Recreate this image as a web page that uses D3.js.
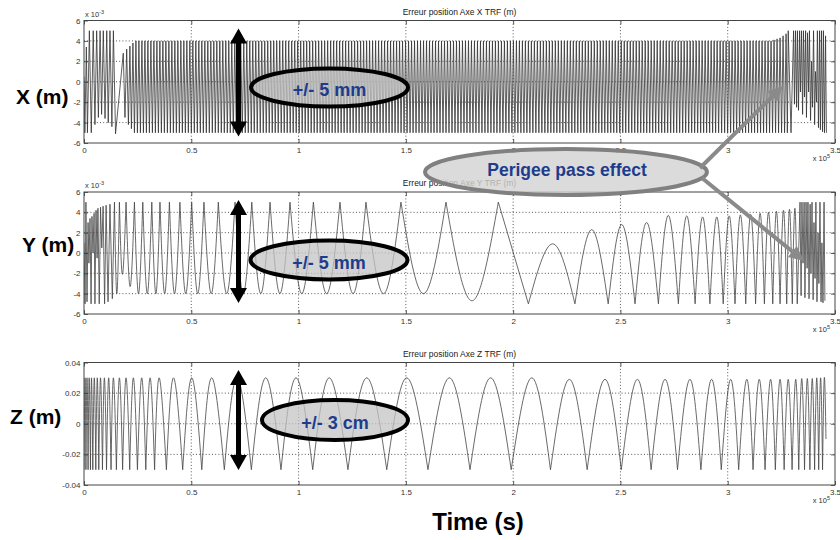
<!DOCTYPE html>
<html>
<head>
<meta charset="utf-8">
<script src="https://cdn.jsdelivr.net/npm/d3@7"></script>
<style>
	body { margin: 0; background: #fff; }
	svg { display: block; font-family: "Liberation Sans", Arial, Helvetica, sans-serif; }
</style>
</head>
<body>
<div id="chart-area"></div>
<script>
/******************************
*			DATA			  *
******************************/
// time in units of 1e5 s, X and Y errors in 1e-3 m, Z error in m
const timeTicks = [0, 0.5, 1, 1.5, 2, 2.5, 3, 3.5];
const timeTickLabels = ["0", "0.5", "1", "1.5", "2", "2.5", "3", "3.5"];
const mmTicks = [6, 4, 2, 0, -2, -4, -6];
const mmTickLabels = ["6", "4", "2", "0", "-2", "-4", "-6"];
const zTicks = [0.04, 0.02, 0, -0.02, -0.04];
const zTickLabels = ["0.04", "0.02", "0", "-0.02", "-0.04"];

const panelTitles = [
	"Erreur position Axe X TRF (m)",
	"Erreur position Axe Y TRF (m)",
	"Erreur position Axe Z TRF (m)"
];
const axisNames = ["X (m)", "Y (m)", "Z (m)"];
const spanNotes = ["+/- 5 mm", "+/- 5 mm", "+/- 3 cm"];
const perigeeNote = "Perigee pass effect";
const timeLabel = "Time (s)";

// X : start of the arc, [time, value]
const xHead = [
	[0.000, 0.5], [0.004, -5.0], [0.011, 3.4], [0.016, -5.0], [0.025, 5.0], [0.034, -5.0],
	[0.043, 5.0], [0.051, -4.2], [0.059, 5.0], [0.067, -3.5], [0.075, 5.0], [0.082, -3.2],
	[0.090, 5.0], [0.098, -3.6], [0.106, 5.0], [0.113, -4.0], [0.121, 5.0], [0.130, -4.4],
	[0.137, 5.0], [0.147, -5.1], [0.183, 2.8], [0.191, -3.5], [0.199, 3.2], [0.207, -4.2],
	[0.214, 3.5], [0.221, -4.6], [0.228, 3.8]
];
// X : long regular stretch, [from, to, cycles, low, high] (about one cycle per 3 px)
const xBand = [
	[0.235, 3.209, 213, -5.0, 4.0]
];
// X : end of the arc, perigee pass
const xTail = [
	[3.216, 4.1], [3.223, -5.0], [3.230, 4.2], [3.237, -5.0], [3.244, 4.3], [3.251, -5.0],
	[3.258, 4.5], [3.265, -5.0], [3.272, 4.7], [3.278, -5.0], [3.282, 5.0], [3.295, -5.0],
	[3.307, 5.0], [3.311, -2.2], [3.316, 5.0], [3.321, -2.5], [3.325, 5.0], [3.330, -2.8],
	[3.335, 5.0], [3.339, -1.0], [3.344, 5.0], [3.349, -3.2], [3.353, 5.0], [3.358, -1.5],
	[3.363, 5.0], [3.367, -3.5], [3.372, 4.8], [3.377, -1.0], [3.381, 5.0], [3.386, -3.8],
	[3.391, 2.0], [3.395, -2.5], [3.400, 5.0], [3.405, -4.2], [3.409, 1.0], [3.414, -2.0],
	[3.418, 5.0], [3.423, -4.5], [3.428, 5.0], [3.432, -4.7], [3.437, 5.0], [3.442, -4.9],
	[3.446, 5.0], [3.451, -5.0], [3.456, 4.5], [3.460, -5.0]
];

// Y : extrema [time, value, cusp] (cusp = 1 : sharp turn, 0 : rounded turn)
const yPoints = [
	[0.000, 1.0, 1], [0.005, -5.0, 1], [0.009, 5.0, 1], [0.014, -4.8, 1], [0.019, 3.0, 1],
	[0.023, -1.0, 1], [0.028, 3.4, 1], [0.033, -5.0, 1], [0.037, 3.6, 1], [0.042, 0.0, 1],
	[0.047, 3.9, 1], [0.051, -5.0, 1], [0.056, 4.2, 1], [0.061, -0.5, 1], [0.065, 4.4, 1],
	[0.071, -5.0, 1], [0.077, 4.5, 1], [0.083, 0.5, 1], [0.089, 4.6, 1], [0.096, -5.0, 1],
	[0.103, 4.7, 1], [0.112, -4.8, 1], [0.121, 4.8, 1], [0.132, -4.5, 1], [0.142, 5.0, 1],
	[0.153, -4.0, 0], [0.165, 5.0, 1], [0.179, -2.1, 0], [0.196, 5.0, 1], [0.215, -3.3, 0],
	[0.235, 5.0, 1], [0.254, -4.0, 0], [0.274, 5.0, 1], [0.295, -4.0, 0], [0.316, 5.0, 1],
	[0.335, -4.0, 0], [0.354, 5.0, 1], [0.376, -4.0, 0], [0.398, 5.0, 1], [0.422, -4.0, 0],
	[0.447, 5.0, 1], [0.474, -4.0, 0], [0.502, 5.0, 1], [0.530, -4.0, 0], [0.559, 5.0, 1],
	[0.593, -4.0, 0], [0.626, 5.0, 1], [0.665, -4.0, 0], [0.704, 5.0, 1], [0.742, -4.0, 0],
	[0.782, 5.0, 1], [0.824, -4.0, 0], [0.867, 5.0, 1], [0.913, -4.0, 0], [0.960, 5.0, 1],
	[1.015, -4.0, 0], [1.069, 5.0, 1], [1.131, -4.0, 0], [1.193, 5.0, 1], [1.254, -4.0, 0],
	[1.314, 5.0, 1], [1.396, -4.0, 0], [1.477, 5.0, 1], [1.582, -4.0, 0], [1.687, 5.0, 1],
	[1.808, -4.7, 0], [1.931, 5.0, 1], [2.071, -5.0, 1], [2.184, 0.9, 0], [2.288, -5.0, 1],
	[2.366, 2.3, 0], [2.443, -5.0, 1], [2.506, 2.8, 0], [2.568, -5.0, 1], [2.622, 3.0, 0],
	[2.677, -5.0, 1], [2.723, 3.7, 0], [2.770, -5.0, 1], [2.809, 3.65, 0], [2.848, -5.0, 1],
	[2.883, 3.55, 0], [2.917, -5.0, 1], [2.949, 3.55, 0], [2.979, -5.0, 1], [3.007, 3.65, 0],
	[3.034, -5.0, 1], [3.059, 3.75, 0], [3.084, -5.0, 1], [3.107, 3.8, 0], [3.130, -5.0, 1],
	[3.151, 3.9, 0], [3.171, -5.0, 1], [3.190, 4.0, 0], [3.210, -5.0, 1], [3.227, 4.1, 0],
	[3.244, -5.0, 1], [3.260, 4.2, 0], [3.275, -5.0, 1], [3.288, 4.3, 0], [3.301, -5.0, 1],
	[3.313, 4.4, 0], [3.324, -5.0, 1], [3.337, 5.0, 1], [3.342, -4.2, 1], [3.346, 5.0, 1],
	[3.351, -1.0, 1], [3.356, 5.0, 1], [3.360, -4.4, 1], [3.365, 5.0, 1], [3.370, -1.5, 1],
	[3.374, 5.0, 1], [3.379, -4.5, 1], [3.384, 4.8, 1], [3.388, -2.0, 1], [3.393, 5.0, 1],
	[3.398, -4.6, 1], [3.402, 3.0, 1], [3.407, -2.5, 1], [3.411, 5.0, 1], [3.416, -4.8, 1],
	[3.421, 2.0, 1], [3.425, -3.0, 1], [3.430, 5.0, 1], [3.435, -4.8, 1], [3.439, 1.0, 1],
	[3.444, -4.9, 1], [3.449, 5.0, 1], [3.453, -4.7, 1]
];

// Z : extrema [time, value, cusp], sharp troughs and rounded tops
const zPoints = [
	[0.000, -0.030, 1], [0.005, 0.030, 0], [0.009, -0.030, 1], [0.014, 0.030, 0], [0.019, -0.030, 1],
	[0.024, 0.030, 0], [0.030, -0.030, 1], [0.035, 0.030, 0], [0.041, -0.030, 1], [0.048, 0.030, 0],
	[0.055, -0.030, 1], [0.062, 0.030, 0], [0.069, -0.030, 1], [0.077, 0.030, 0], [0.086, -0.030, 1],
	[0.095, 0.030, 0], [0.105, -0.030, 1], [0.115, 0.030, 0], [0.126, -0.030, 1], [0.137, 0.030, 0],
	[0.151, -0.030, 1], [0.165, 0.030, 0], [0.180, -0.030, 1], [0.196, 0.030, 0], [0.213, -0.030, 1],
	[0.230, 0.030, 0], [0.249, -0.030, 1], [0.269, 0.030, 0], [0.288, -0.030, 1], [0.308, 0.030, 0],
	[0.329, -0.030, 1], [0.350, 0.030, 0], [0.384, -0.030, 1], [0.417, 0.030, 0], [0.460, -0.030, 1],
	[0.502, 0.030, 0], [0.549, -0.030, 1], [0.595, 0.030, 0], [0.654, -0.030, 1], [0.713, 0.030, 0],
	[0.780, -0.030, 1], [0.847, 0.030, 0], [0.918, -0.030, 1], [0.988, 0.030, 0], [1.066, -0.030, 1],
	[1.143, 0.030, 0], [1.230, -0.030, 1], [1.318, 0.030, 0], [1.411, -0.030, 1], [1.504, 0.030, 0],
	[1.603, -0.030, 1], [1.703, 0.030, 0], [1.799, -0.030, 1], [1.895, 0.030, 0], [1.991, -0.030, 1],
	[2.087, 0.030, 0], [2.174, -0.030, 1], [2.262, 0.029, 0], [2.345, -0.030, 1], [2.428, 0.029, 0],
	[2.504, -0.030, 1], [2.579, 0.029, 0], [2.643, -0.030, 1], [2.708, 0.029, 0], [2.766, -0.030, 1],
	[2.824, 0.029, 0], [2.875, -0.030, 1], [2.925, 0.029, 0], [2.970, -0.030, 1], [3.014, 0.029, 0],
	[3.051, -0.030, 1], [3.089, 0.029, 0], [3.118, -0.030, 1], [3.147, 0.029, 0], [3.174, -0.030, 1],
	[3.200, 0.029, 0], [3.222, -0.030, 1], [3.244, 0.029, 0], [3.263, -0.030, 1], [3.282, 0.029, 0],
	[3.300, -0.030, 1], [3.317, 0.029, 0], [3.331, -0.030, 1], [3.345, 0.0295, 0], [3.358, -0.030, 1],
	[3.371, 0.0295, 0], [3.383, -0.030, 1], [3.394, 0.0295, 0], [3.405, -0.030, 1], [3.415, 0.030, 0],
	[3.424, -0.030, 1], [3.433, 0.030, 0], [3.442, -0.030, 1], [3.450, 0.030, 0], [3.458, -0.010, 1]
];

/******************************
*		  BUILD SERIES		  *
******************************/
// regular stretch -> alternating low / high turns
function expandBand(b) {
	var pts = [];
	for (var k = 0; k <= 2 * b[2]; k++) {
		pts.push([b[0] + (b[1] - b[0]) * k / (2 * b[2]), k % 2 ? b[4] : b[3], 1]);
	}
	return pts;
}

var xPoints = xHead.map(d => [d[0], d[1], 1]);
xBand.forEach(b => { xPoints = xPoints.concat(expandBand(b)); });
xPoints = xPoints.concat(xTail.map(d => [d[0], d[1], 1]));

/******************************
*	DIMENSIONS AND LAYOUT	  *
******************************/
const widthinput = 840;
const heightinput = 540;

var svg = d3.select("#chart-area")
	.append("svg")
		.attr("width", widthinput)
		.attr("height", heightinput);

var x = d3.scaleLinear()
	.domain([0, 3.5])
	.range([84, 835]);

var panels = [
	{ top: 20.5, bottom: 143, domain: [-6, 6], ticks: mmTicks, labels: mmTickLabels,
		exponent: "-3", points: xPoints, nameX: 16, nameY: 104 },
	{ top: 192, bottom: 314, domain: [-6, 6], ticks: mmTicks, labels: mmTickLabels,
		exponent: "-3", points: yPoints, nameX: 22, nameY: 252 },
	{ top: 362.5, bottom: 485, domain: [-0.04, 0.04], ticks: zTicks, labels: zTickLabels,
		exponent: null, points: zPoints, nameX: 10, nameY: 423.5 }
];

// one path, each piece between two sharp turns drawn as a natural spline
function tracePath(points, y) {
	var line = d3.line()
		.x(d => x(d[0]))
		.y(d => y(d[1]))
		.curve(d3.curveNatural);
	var path = "";
	var piece = [points[0]];
	for (var i = 1; i < points.length; i++) {
		piece.push(points[i]);
		if (points[i][2] || i === points.length - 1) {
			path += line(piece);
			piece = [points[i]];
		}
	}
	return path;
}

/******************************
*			PANELS			  *
******************************/
panels.forEach((p, i) => {
	var y = d3.scaleLinear()
		.domain(p.domain)
		.range([p.bottom, p.top]);
	p.y = y;

	var g = svg.append("g");

	// grid
	var innerX = timeTicks.slice(1, -1);
	var innerY = p.ticks.slice(1, -1);
	g.selectAll(".vgrid")
		.data(innerX)
		.enter().append("line")
			.attr("x1", d => x(d)).attr("x2", d => x(d))
			.attr("y1", p.top).attr("y2", p.bottom)
			.attr("stroke", "#111")
			.attr("stroke-width", 0.7)
			.attr("stroke-dasharray", "1,2.2");
	g.selectAll(".hgrid")
		.data(innerY)
		.enter().append("line")
			.attr("x1", x(0)).attr("x2", x(3.5))
			.attr("y1", d => y(d)).attr("y2", d => y(d))
			.attr("stroke", "#111")
			.attr("stroke-width", 0.7)
			.attr("stroke-dasharray", "1,2.2");

	// signal
	svg.append("clipPath")
		.attr("id", "clip" + i)
		.append("rect")
			.attr("x", x(0)).attr("y", p.top)
			.attr("width", x(3.5) - x(0)).attr("height", p.bottom - p.top);

	g.append("path")
		.attr("clip-path", "url(#clip" + i + ")")
		.attr("d", tracePath(p.points, y))
		.attr("fill", "none")
		.attr("stroke", i === 0 ? "#333" : "#444")
		.attr("stroke-width", 0.8);

	// axes, inward ticks like matlab
	var bottomAxis = d3.axisBottom(x)
		.tickValues(timeTicks)
		.tickFormat((d, k) => timeTickLabels[k])
		.tickSizeInner(-4).tickSizeOuter(0).tickPadding(4.5);
	var leftAxis = d3.axisLeft(y)
		.tickValues(p.ticks)
		.tickFormat((d, k) => p.labels[k])
		.tickSizeInner(-4).tickSizeOuter(0).tickPadding(3.5);
	var topAxis = d3.axisTop(x).tickValues(timeTicks).tickFormat("")
		.tickSizeInner(-4).tickSizeOuter(0);
	var rightAxis = d3.axisRight(y).tickValues(p.ticks).tickFormat("")
		.tickSizeInner(-4).tickSizeOuter(0);

	[[bottomAxis, 0, p.bottom], [leftAxis, x(0), 0], [topAxis, 0, p.top], [rightAxis, x(3.5), 0]]
		.forEach(a => {
			var ax = g.append("g")
				.attr("transform", "translate(" + a[1] + ", " + a[2] + ")")
				.call(a[0]);
			ax.select(".domain").remove();
			ax.selectAll("line").attr("stroke", "#333").attr("stroke-width", 0.8);
			ax.selectAll("text")
				.attr("fill", "#333")
				.style("font-size", "8px")
				.style("font-family", "'Liberation Sans', Arial, sans-serif");
		});

	// frame
	g.append("rect")
		.attr("x", x(0)).attr("y", p.top)
		.attr("width", x(3.5) - x(0)).attr("height", p.bottom - p.top)
		.attr("fill", "none")
		.attr("stroke", "#444")
		.attr("stroke-width", 1);

	// title
	g.append("text")
		.attr("x", (x(0) + x(3.5)) / 2)
		.attr("y", p.top - 6)
		.attr("text-anchor", "middle")
		.attr("fill", "#222")
		.style("font-size", "8.5px")
		.text(panelTitles[i]);

	// multipliers
	if (p.exponent) {
		var ex = g.append("text")
			.attr("x", x(0) + 1)
			.attr("y", p.top - 4)
			.attr("fill", "#333")
			.style("font-size", "7.5px")
			.text("x 10");
		ex.append("tspan")
			.attr("dy", -3)
			.style("font-size", "5.5px")
			.text(p.exponent);
	}
	var e5 = g.append("text")
		.attr("x", x(3.5) - 5)
		.attr("y", p.bottom + 18)
		.attr("text-anchor", "end")
		.attr("fill", "#333")
		.style("font-size", "7.5px")
		.text("x 10");
	e5.append("tspan")
		.attr("dy", -3)
		.style("font-size", "5.5px")
		.text("5");

	// axis name
	g.append("text")
		.attr("x", p.nameX)
		.attr("y", p.nameY)
		.attr("font-weight", "bold")
		.attr("fill", "#000")
		.style("font-size", "21px")
		.text(axisNames[i]);
});

svg.append("text")
	.attr("x", 478)
	.attr("y", 530)
	.attr("text-anchor", "middle")
	.attr("font-weight", "bold")
	.style("font-size", "24px")
	.text(timeLabel);

/******************************
*		  ANNOTATIONS		  *
******************************/
var notes = [
	{ cx: 329.5, cy: 87.5, rx: 78.5, ry: 19, ax: 238.5, ay1: 28.5, ay2: 136.5 },
	{ cx: 329, cy: 260, rx: 78.5, ry: 19.5, ax: 238.5, ay1: 200, ay2: 303 },
	{ cx: 335, cy: 420, rx: 73, ry: 20, ax: 238.5, ay1: 370, ay2: 470 }
];

notes.forEach((n, i) => {
	var hw = 8.5, hh = 15, sw = 2.5;
	var pts = [
		[n.ax, n.ay1], [n.ax + hw, n.ay1 + hh], [n.ax + sw, n.ay1 + hh],
		[n.ax + sw, n.ay2 - hh], [n.ax + hw, n.ay2 - hh], [n.ax, n.ay2],
		[n.ax - hw, n.ay2 - hh], [n.ax - sw, n.ay2 - hh], [n.ax - sw, n.ay1 + hh],
		[n.ax - hw, n.ay1 + hh]
	];
	svg.append("polygon")
		.attr("points", pts.map(q => q.join(",")).join(" "))
		.attr("fill", "#000");

	svg.append("ellipse")
		.attr("cx", n.cx).attr("cy", n.cy)
		.attr("rx", n.rx).attr("ry", n.ry)
		.attr("fill", "#c4c4c4")
		.attr("fill-opacity", 0.75)
		.attr("stroke", "#000")
		.attr("stroke-width", 4);

	svg.append("text")
		.attr("x", n.cx)
		.attr("y", n.cy + 8.5)
		.attr("text-anchor", "middle")
		.attr("font-weight", "bold")
		.attr("fill", "#1e3c8c")
		.style("font-size", "18px")
		.text(spanNotes[i]);
});

// perigee callout
svg.append("ellipse")
	.attr("cx", 566).attr("cy", 172)
	.attr("rx", 141).attr("ry", 23)
	.attr("fill", "#d2d2d2")
	.attr("fill-opacity", 0.8)
	.attr("stroke", "#808080")
	.attr("stroke-width", 4);

svg.append("text")
	.attr("x", 567)
	.attr("y", 175.5)
	.attr("text-anchor", "middle")
	.attr("font-weight", "bold")
	.attr("fill", "#1e3c8c")
	.style("font-size", "17.5px")
	.text(perigeeNote);

var pointers = [
	[[700, 168], [783, 86]],
	[[702, 178], [804, 261]]
];
pointers.forEach(pt => {
	var s = pt[0], t = pt[1];
	var dx = t[0] - s[0], dy = t[1] - s[1];
	var len = Math.sqrt(dx * dx + dy * dy);
	var ux = dx / len, uy = dy / len;
	var hl = 15, hw = 7;
	var bx = t[0] - ux * hl, by = t[1] - uy * hl;
	svg.append("line")
		.attr("x1", s[0]).attr("y1", s[1])
		.attr("x2", bx).attr("y2", by)
		.attr("stroke", "#8a8a8a")
		.attr("stroke-width", 4);
	svg.append("polygon")
		.attr("points", [
			[t[0], t[1]],
			[bx - uy * hw, by + ux * hw],
			[bx + uy * hw, by - ux * hw]
		].map(q => q.join(",")).join(" "))
		.attr("fill", "#8a8a8a");
});
</script>
</body>
</html>
